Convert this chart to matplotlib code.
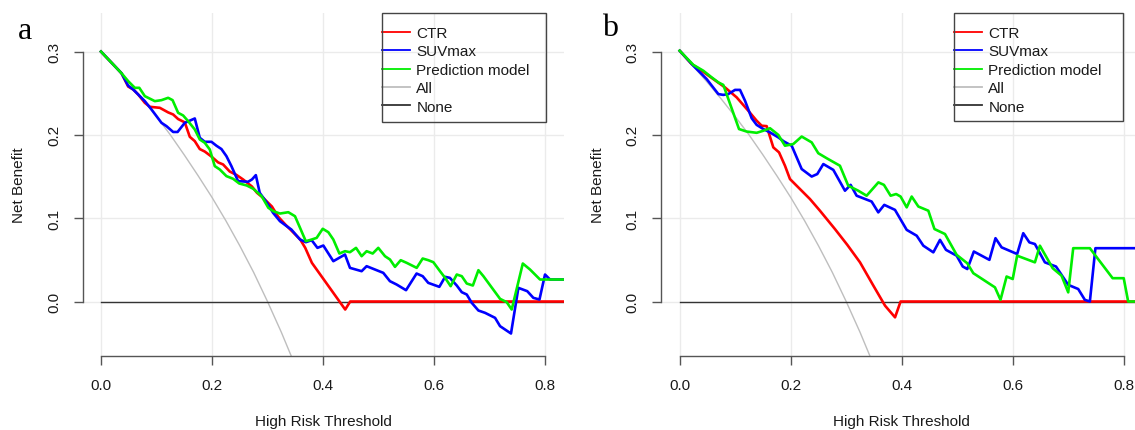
import matplotlib
matplotlib.use("Agg")
import matplotlib.pyplot as plt
from matplotlib.lines import Line2D
from matplotlib.patches import Rectangle

plt.rcParams['font.family'] = ['Liberation Sans', 'DejaVu Sans']

# ---------------- data ----------------
x_ticks = [0.0, 0.2, 0.4, 0.6, 0.8]
y_ticks = [0.0, 0.1, 0.2, 0.3]
series_names = ["CTR", "SUVmax", "Prediction model", "All", "None"]

# "Treat all" curve (same in both panels)
all_x = [0, 0.025, 0.05, 0.075, 0.1, 0.125, 0.15, 0.175, 0.2, 0.225, 0.25, 0.275, 0.3, 0.325, 0.35]
all_y = [0.300, 0.282, 0.263, 0.243, 0.222, 0.200, 0.176, 0.151, 0.125, 0.097, 0.067, 0.035, 0.000, -0.037, -0.077]
none_x = [0.0, 0.833]
none_y = [0.0, 0.0]

# Panel a
a_ctr_x = [0, 0.037, 0.040, 0.049, 0.058, 0.067, 0.079, 0.088, 0.106, 0.121, 0.130, 0.139, 0.151, 0.160, 0.169,
           0.178, 0.187, 0.199, 0.211, 0.220, 0.232, 0.244, 0.256, 0.272, 0.281, 0.292, 0.308, 0.319, 0.332, 0.341,
           0.359, 0.368, 0.380, 0.395, 0.410, 0.425, 0.440, 0.449, 0.833]
a_ctr_y = [0.300, 0.274, 0.270, 0.258, 0.2545, 0.2485, 0.2385, 0.2337, 0.2325, 0.227, 0.2245, 0.219, 0.215, 0.1977,
           0.1925, 0.183, 0.180, 0.174, 0.167, 0.1645, 0.156, 0.152, 0.1465, 0.138, 0.1305, 0.1245, 0.114, 0.102,
           0.0925, 0.0865, 0.0744, 0.0644, 0.0464, 0.0324, 0.0184, 0.0044, -0.0096, 0.0, 0.0]

a_suv_x = [0, 0.037, 0.049, 0.058, 0.067, 0.079, 0.091, 0.109, 0.118, 0.130, 0.138, 0.151, 0.169, 0.178, 0.187,
           0.199, 0.208, 0.217, 0.226, 0.235, 0.247, 0.265, 0.272, 0.279, 0.286, 0.299, 0.310, 0.3225, 0.3346, 0.343,
           0.3586, 0.369, 0.3796, 0.390, 0.4006, 0.4186, 0.4396, 0.4486, 0.4696, 0.4786, 0.5086, 0.5206, 0.5326,
           0.5496, 0.5686, 0.5796, 0.5896, 0.6096, 0.620, 0.6286, 0.641, 0.650, 0.659, 0.668, 0.680, 0.692, 0.710,
           0.719, 0.7387, 0.752, 0.768, 0.779, 0.790, 0.800, 0.809, 0.833]
a_suv_y = [0.300, 0.274, 0.259, 0.2545, 0.2485, 0.2405, 0.2305, 0.2145, 0.2105, 0.2035, 0.2035, 0.2145, 0.2197,
           0.1965, 0.1917, 0.1917, 0.187, 0.183, 0.1745, 0.1625, 0.1445, 0.1437, 0.1465, 0.1517, 0.1305, 0.1185,
           0.1065, 0.0964, 0.0904, 0.0864, 0.0744, 0.0712, 0.0736, 0.0644, 0.0672, 0.0484, 0.0564, 0.0404, 0.0364,
           0.0424, 0.0344, 0.0244, 0.0204, 0.0136, 0.0336, 0.0304, 0.0224, 0.0176, 0.0296, 0.0284, 0.0192, 0.0112,
           0.0084, -0.0016, -0.0108, -0.0136, -0.0196, -0.0296, -0.0384, 0.0164, 0.0124, 0.0044, 0.0024, 0.0324,
           0.0264, 0.0264]

a_pred_x = [0, 0.037, 0.049, 0.061, 0.069, 0.079, 0.097, 0.109, 0.121, 0.129, 0.139, 0.148, 0.157, 0.169, 0.178,
            0.187, 0.196, 0.205, 0.214, 0.226, 0.238, 0.249, 0.2625, 0.2745, 0.2895, 0.3015, 0.3105, 0.3225, 0.3375,
            0.3495, 0.3586, 0.369, 0.3796, 0.3886, 0.3995, 0.4096, 0.4186, 0.4295, 0.4396, 0.4486, 0.4595, 0.4696,
            0.4786, 0.4895, 0.4996, 0.5117, 0.5207, 0.5297, 0.540, 0.5508, 0.5688, 0.5796, 0.5897, 0.5988, 0.6108,
            0.620, 0.630, 0.641, 0.650, 0.659, 0.670, 0.680, 0.689, 0.719, 0.731, 0.740, 0.760, 0.773, 0.791, 0.833]
a_pred_y = [0.300, 0.274, 0.2645, 0.2565, 0.2565, 0.2465, 0.2405, 0.2417, 0.2445, 0.2417, 0.2265, 0.2233, 0.2165,
            0.2065, 0.1945, 0.1905, 0.1825, 0.1625, 0.1585, 0.1505, 0.1473, 0.1417, 0.1393, 0.1353, 0.1264, 0.1125,
            0.1084, 0.1056, 0.1072, 0.1024, 0.0885, 0.0724, 0.0744, 0.0764, 0.0873, 0.0832, 0.0744, 0.0576, 0.0604,
            0.0592, 0.0644, 0.0544, 0.0604, 0.0576, 0.0644, 0.0544, 0.0504, 0.0416, 0.0496, 0.0464, 0.0404, 0.0516,
            0.0496, 0.0472, 0.0364, 0.0284, 0.0184, 0.0324, 0.0304, 0.0216, 0.0192, 0.0376, 0.0304, 0.0032, -0.0008,
            -0.0096, 0.0456, 0.0384, 0.0264, 0.0264]

# Panel b
b_ctr_x = [0, 0.0216, 0.0396, 0.0605, 0.0816, 0.1027, 0.1236, 0.1387, 0.1477, 0.1567, 0.1687, 0.179, 0.1897,
           0.1987, 0.2167, 0.2347, 0.2527, 0.2797, 0.302, 0.3249, 0.349, 0.370, 0.388, 0.398, 0.833]
b_ctr_y = [0.301, 0.285, 0.277, 0.267, 0.257, 0.245, 0.229, 0.217, 0.211, 0.2105, 0.185, 0.179, 0.163, 0.147,
           0.135, 0.123, 0.109, 0.087, 0.068, 0.047, 0.019, -0.005, -0.019, 0.0, 0.0]

b_suv_x = [0, 0.0246, 0.0486, 0.0696, 0.0786, 0.0876, 0.0997, 0.1087, 0.1177, 0.1297, 0.1387, 0.1507, 0.1627,
           0.1777, 0.188, 0.2018, 0.2198, 0.2378, 0.2479, 0.2588, 0.2768, 0.2978, 0.308, 0.3188, 0.3458, 0.3578,
           0.3686, 0.3879, 0.409, 0.427, 0.439, 0.457, 0.469, 0.4798, 0.499, 0.510, 0.5182, 0.530, 0.558, 0.569,
           0.580, 0.608, 0.619, 0.630, 0.640, 0.658, 0.678, 0.700, 0.718, 0.730, 0.739, 0.749, 0.833]
b_suv_y = [0.301, 0.283, 0.267, 0.249, 0.248, 0.249, 0.254, 0.254, 0.241, 0.220, 0.212, 0.207, 0.203, 0.197,
           0.192, 0.187, 0.159, 0.150, 0.153, 0.165, 0.158, 0.133, 0.140, 0.127, 0.120, 0.107, 0.116, 0.110, 0.086,
           0.079, 0.067, 0.059, 0.074, 0.062, 0.055, 0.042, 0.039, 0.060, 0.050, 0.076, 0.065, 0.057, 0.082, 0.071,
           0.069, 0.047, 0.042, 0.020, 0.015, 0.002, 0.0, 0.064, 0.064]

b_pred_x = [0, 0.0246, 0.0426, 0.0577, 0.0697, 0.0786, 0.0877, 0.1069, 0.1207, 0.1387, 0.1507, 0.1627, 0.1777,
            0.1897, 0.2046, 0.2198, 0.2378, 0.2497, 0.2648, 0.2887, 0.3037, 0.3217, 0.3368, 0.358, 0.368, 0.380,
            0.390, 0.398, 0.409, 0.418, 0.430, 0.448, 0.459, 0.478, 0.499, 0.518, 0.529, 0.568, 0.578, 0.589, 0.600,
            0.608, 0.640, 0.649, 0.672, 0.688, 0.700, 0.709, 0.739, 0.780, 0.800, 0.808, 0.833]
b_pred_y = [0.301, 0.284, 0.277, 0.269, 0.263, 0.260, 0.243, 0.207, 0.204, 0.2025, 0.205, 0.208, 0.200, 0.187,
            0.189, 0.198, 0.191, 0.178, 0.172, 0.163, 0.139, 0.133, 0.127, 0.143, 0.140, 0.127, 0.129, 0.126, 0.113,
            0.126, 0.114, 0.109, 0.087, 0.081, 0.056, 0.046, 0.034, 0.017, 0.002, 0.030, 0.027, 0.055, 0.047, 0.067,
            0.040, 0.031, 0.011, 0.064, 0.064, 0.028, 0.028, 0.0, 0.0]

# ---------------- style ----------------
W, H = 1135, 431
RED, BLUE, GREEN = "#FF0000", "#0000FF", "#00EE00"
ALLC, NONEC = "#BEBEBE", "#333333"
AXC = "#555555"
GRIDC = "#EBEBEB"
FS = 11
XLIM = (-0.0333, 0.8333)
YLIM = (-0.0654, 0.3463)

fig = plt.figure(figsize=(W / 100, H / 100), dpi=100)


def px_axes(left, right, top, bottom):
    return [left / W, 1 - bottom / H, (right - left) / W, (bottom - top) / H]


def draw_panel(ax, ctr, suv, pred, legend_box):
    ax.set_xlim(*XLIM)
    ax.set_ylim(*YLIM)
    for xv in x_ticks:
        ax.axvline(xv, color=GRIDC, lw=1, zorder=0)
    for yv in y_ticks:
        ax.axhline(yv, color=GRIDC, lw=1, zorder=0)
    ax.plot(all_x, all_y, color=ALLC, lw=1.0, zorder=2)
    ax.plot(none_x, none_y, color=NONEC, lw=1.0, zorder=2)
    ax.plot(ctr[0], ctr[1], color=RED, lw=1.9, zorder=3)
    ax.plot(suv[0], suv[1], color=BLUE, lw=1.9, zorder=4)
    ax.plot(pred[0], pred[1], color=GREEN, lw=1.9, zorder=5)

    for s in ["top", "right"]:
        ax.spines[s].set_visible(False)
    for s in ["left", "bottom"]:
        ax.spines[s].set_color(AXC)
        ax.spines[s].set_linewidth(1.0)
    ax.spines["left"].set_bounds(0, 0.3)
    ax.spines["bottom"].set_bounds(0, 0.8)
    ax.set_xticks(x_ticks)
    ax.set_xticklabels([f"{v:.1f}" for v in x_ticks])
    ax.set_yticks(y_ticks)
    ax.set_yticklabels([f"{v:.1f}" for v in y_ticks], rotation=90, va="center")
    ax.tick_params(direction="out", length=6.5, width=1.0, color=AXC, labelsize=FS,
                   labelcolor="#1a1a1a", pad=9)
    ax.set_xlabel("High Risk Threshold", fontsize=FS, color="#1a1a1a")
    ax.xaxis.label.set_va("center")
    ax.xaxis.set_label_coords(0.5, -0.189)
    ax.set_ylabel("Net Benefit", fontsize=FS, color="#1a1a1a")
    ax.yaxis.label.set_va("center")
    ax.patch.set_alpha(0)

    # legend (R style: lines start at box edge)
    bl, br, bt, bb = legend_box
    handles = [Line2D([], [], color=RED, lw=1.3), Line2D([], [], color=BLUE, lw=1.3),
               Line2D([], [], color=GREEN, lw=1.3), Line2D([], [], color=ALLC, lw=1.3),
               Line2D([], [], color=NONEC, lw=1.3)]
    leg = ax.legend(handles, series_names, loc="upper left",
                    bbox_to_anchor=(bl / W, 1 - (bt + 13) / H), bbox_transform=fig.transFigure,
                    frameon=False, borderpad=0, borderaxespad=0, handlelength=1.85,
                    handletextpad=0.4, labelspacing=0.29, fontsize=FS)
    for t in leg.get_texts():
        t.set_color("#1a1a1a")
    fig.add_artist(Rectangle((bl / W, 1 - bb / H), (br - bl) / W, (bb - bt) / H,
                             transform=fig.transFigure, fill=False, ec="#444444", lw=1.0))


ax_a = fig.add_axes(px_axes(82.5, 563.5, 14, 357))
draw_panel(ax_a, (a_ctr_x, a_ctr_y), (a_suv_x, a_suv_y), (a_pred_x, a_pred_y), (382, 546, 14, 123))
ax_a.yaxis.set_label_coords(-0.131, 0.5)

ax_b = fig.add_axes(px_axes(661.2, 1142.2, 14, 357))
draw_panel(ax_b, (b_ctr_x, b_ctr_y), (b_suv_x, b_suv_y), (b_pred_x, b_pred_y), (954, 1123, 14, 122))
ax_b.yaxis.set_label_coords(-0.131, 0.5)

fig.text(18 / W, 1 - 39 / H, "a", fontsize=23, family="Liberation Serif", ha="left", va="baseline")
fig.text(602 / W, 1 - 36 / H, "b", fontsize=23, family="Liberation Serif", ha="left", va="baseline")

fig.savefig("out.png", dpi=100)
